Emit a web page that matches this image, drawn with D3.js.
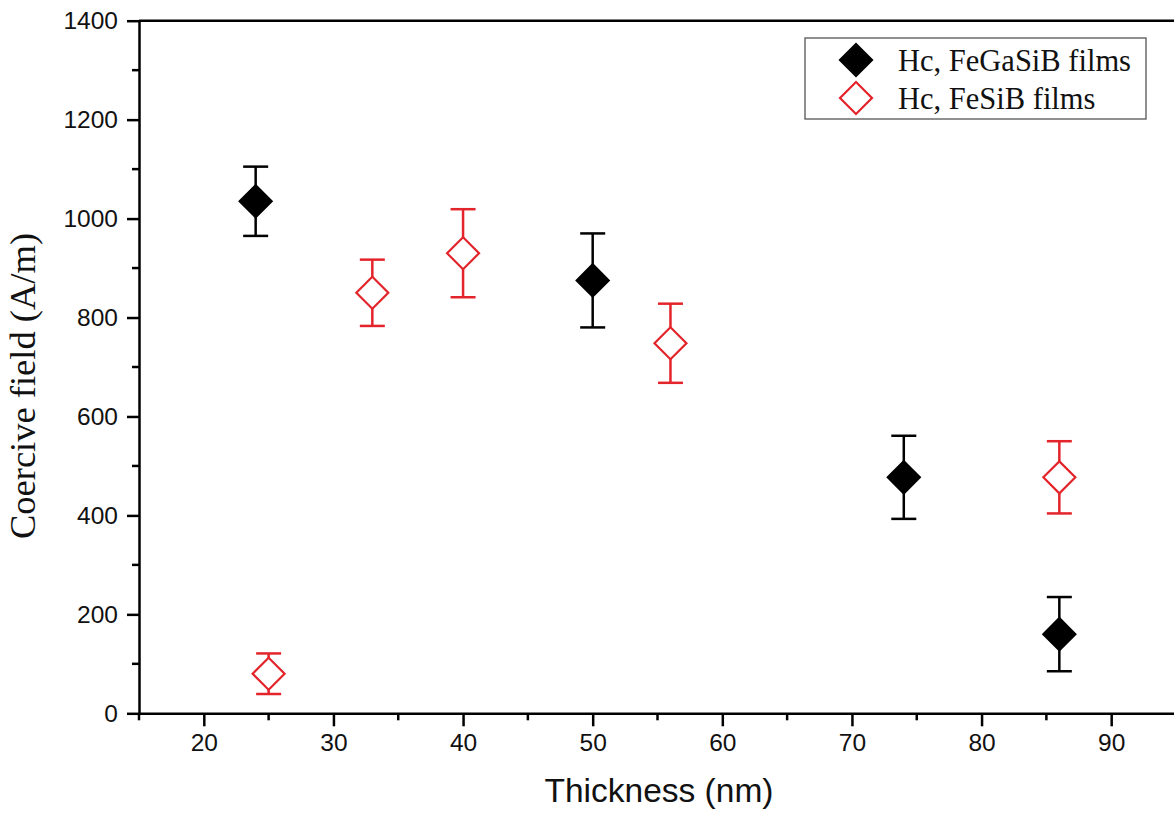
<!DOCTYPE html>
<html>
<head>
<meta charset="utf-8">
<script src="https://cdn.jsdelivr.net/npm/d3@7"></script>
<style>
  body { margin: 0; background: #fff; }
  svg { display: block; }
  .axis path, .axis line { stroke: #000; stroke-width: 2.5; }
  .axis text { font-family: "Liberation Sans", Arial, sans-serif; font-size: 24.5px; fill: #111; }
</style>
</head>
<body>
<svg id="chart" width="1174" height="820"></svg>
<script>

// thickness (nm), coercive field (A/m), error (A/m)
var fegasib_x = [24, 50, 74, 86];
var fegasib_y = [1035, 875, 477, 160];
var fegasib_err = [70, 95, 84, 75];

var fesib_x = [25, 33, 40, 56, 86];
var fesib_y = [80, 850, 930, 748, 477];
var fesib_err = [41, 67, 89, 80, 73];

var xticks = [20, 30, 40, 50, 60, 70, 80, 90];
var xminor = [15, 25, 35, 45, 55, 65, 75, 85, 95];
var yticks = [0, 200, 400, 600, 800, 1000, 1200, 1400];
var yminor = [100, 300, 500, 700, 900, 1100, 1300];

var legend_labels = ["Hc, FeGaSiB films", "Hc, FeSiB films"];

var svg = d3.select("#chart");

var x = d3.scaleLinear().domain([15, 95]).range([139, 1176]);
var y = d3.scaleLinear().domain([0, 1400]).range([713.3, 20.7]);

// frame (top + right)
svg.append("line")
  .attr("x1", x(15)).attr("x2", x(95))
  .attr("y1", y(1400)).attr("y2", y(1400))
  .attr("stroke", "#000").attr("stroke-width", 2.5);
svg.append("line")
  .attr("x1", x(95)).attr("x2", x(95))
  .attr("y1", y(0)).attr("y2", y(1400))
  .attr("stroke", "#000").attr("stroke-width", 2.5);

// axes
var xaxis = svg.append("g")
  .attr("class", "axis")
  .attr("transform", "translate(0," + y(0) + ")")
  .call(d3.axisBottom(x).tickValues(xticks).tickFormat(d3.format("d"))
    .tickSize(13).tickSizeOuter(0).tickPadding(7));
xaxis.selectAll(".minor")
  .data(xminor)
  .enter().append("line")
  .attr("class", "minor")
  .attr("x1", function(d) { return x(d); })
  .attr("x2", function(d) { return x(d); })
  .attr("y1", 0).attr("y2", 7);

var yaxis = svg.append("g")
  .attr("class", "axis")
  .attr("transform", "translate(" + x(15) + ",0)")
  .call(d3.axisLeft(y).tickValues(yticks).tickFormat(d3.format("d"))
    .tickSize(12).tickSizeOuter(0).tickPadding(9));
yaxis.selectAll(".minor")
  .data(yminor)
  .enter().append("line")
  .attr("class", "minor")
  .attr("x1", 0).attr("x2", -7)
  .attr("y1", function(d) { return y(d); })
  .attr("y2", function(d) { return y(d); });

// axis titles
svg.append("text")
  .attr("x", 659).attr("y", 802)
  .attr("text-anchor", "middle")
  .style("font-family", "'Liberation Sans', Arial, sans-serif")
  .style("font-size", "33.5px")
  .attr("fill", "#111")
  .text("Thickness (nm)");

svg.append("text")
  .attr("transform", "translate(35,386) rotate(-90)")
  .attr("text-anchor", "middle")
  .style("font-family", "'Liberation Serif', 'Times New Roman', serif")
  .style("font-size", "36.5px")
  .attr("fill", "#111")
  .text("Coercive field (A/m)");

var diamond = d3.symbol().type(d3.symbolSquare).size(512);

var draw_series = function(xs, ys, errs, color, filled) {

  var pts = xs.map(function(d, i) { return {x: d, y: ys[i], e: errs[i]}; });
  var g = svg.append("g");

  var bars = g.selectAll(".bar")
    .data(pts)
    .enter().append("g")
    .attr("stroke", color)
    .attr("stroke-width", 2.5);

  bars.append("line")
    .attr("x1", function(d) { return x(d.x); })
    .attr("x2", function(d) { return x(d.x); })
    .attr("y1", function(d) { return y(d.y + d.e); })
    .attr("y2", function(d) { return y(d.y - d.e); });
  bars.append("line")
    .attr("x1", function(d) { return x(d.x) - 12.5; })
    .attr("x2", function(d) { return x(d.x) + 12.5; })
    .attr("y1", function(d) { return y(d.y + d.e); })
    .attr("y2", function(d) { return y(d.y + d.e); });
  bars.append("line")
    .attr("x1", function(d) { return x(d.x) - 12.5; })
    .attr("x2", function(d) { return x(d.x) + 12.5; })
    .attr("y1", function(d) { return y(d.y - d.e); })
    .attr("y2", function(d) { return y(d.y - d.e); });

  g.selectAll(".pt")
    .data(pts)
    .enter().append("path")
    .attr("class", "pt")
    .attr("d", diamond)
    .attr("transform", function(d) { return "translate(" + x(d.x) + "," + y(d.y) + ") rotate(45)"; })
    .attr("fill", filled ? color : "#fff")
    .attr("stroke", color)
    .attr("stroke-width", 2.2);
};

draw_series(fegasib_x, fegasib_y, fegasib_err, "#000", true);
draw_series(fesib_x, fesib_y, fesib_err, "#e3242b", false);

// legend
var legend = svg.append("g");
legend.append("rect")
  .attr("x", 805).attr("y", 38)
  .attr("width", 341).attr("height", 81)
  .attr("fill", "#fff")
  .attr("stroke", "#555")
  .attr("stroke-width", 1.3);

var leg_colors = ["#000", "#e3242b"];
var leg_fill = ["#000", "#fff"];

legend.selectAll(".sym")
  .data(legend_labels)
  .enter().append("path")
  .attr("d", diamond)
  .attr("transform", function(d, i) { return "translate(856," + (60 + i * 38) + ") rotate(45)"; })
  .attr("fill", function(d, i) { return leg_fill[i]; })
  .attr("stroke", function(d, i) { return leg_colors[i]; })
  .attr("stroke-width", 2.2);

legend.selectAll(".lab")
  .data(legend_labels)
  .enter().append("text")
  .attr("x", 898)
  .attr("y", function(d, i) { return 71 + i * 38; })
  .style("font-family", "'Liberation Serif', 'Times New Roman', serif")
  .style("font-size", "30.5px")
  .attr("fill", "#111")
  .text(function(d) { return d; });

</script>
</body>
</html>
